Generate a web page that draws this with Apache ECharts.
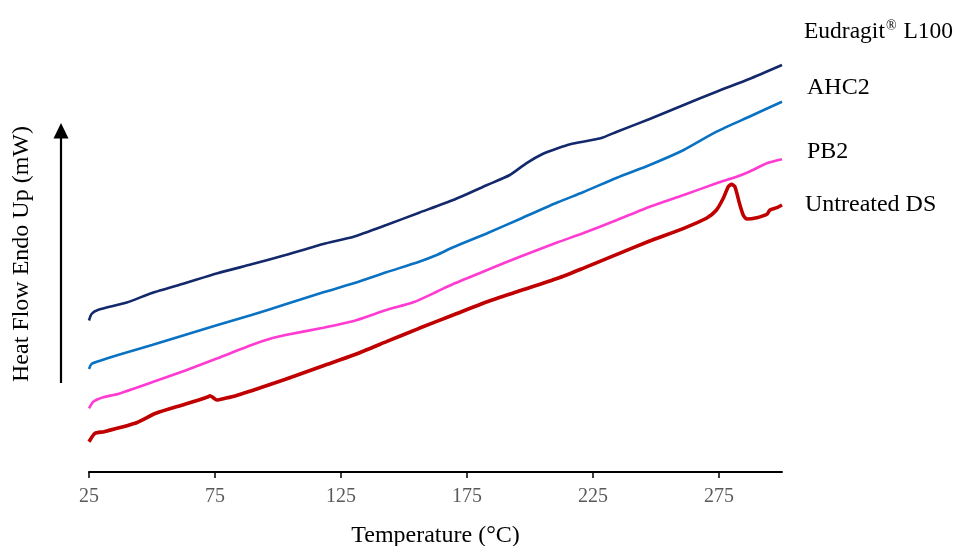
<!DOCTYPE html>
<html>
<head>
<meta charset="utf-8">
<script src="https://cdn.jsdelivr.net/npm/echarts@6/dist/echarts.min.js"></script>
<style>
html,body{margin:0;padding:0;background:#fff;}
#chart{width:957px;height:546px;}
</style>
</head>
<body>
<div id="chart"></div>
<script>
// Temperature (°C) and heat flow (arbitrary mW offset units)
const eudragitT  = [25, 26, 28.5, 40, 50, 63, 76, 89.5, 103, 118, 130, 143, 156, 169.5, 183, 192, 198.5, 205, 211, 216, 228, 234.5, 247.5, 261, 274, 287, 300];
const eudragitHF = [15.15, 15.8, 16.2, 16.95, 17.9, 18.87, 19.87, 20.77, 21.7, 22.8, 23.53, 24.7, 25.93, 27.2, 28.7, 29.7, 30.87, 31.8, 32.37, 32.77, 33.37, 34.03, 35.3, 36.7, 38.03, 39.3, 40.7];

const ahc2T  = [25, 26, 29.4, 36.5, 50, 63, 76, 89.5, 103, 118, 130, 143, 156, 163, 169.5, 183, 196, 211, 221, 234.5, 247.5, 261, 274, 287, 300];
const ahc2HF = [10.3, 10.8, 11.13, 11.7, 12.7, 13.7, 14.7, 15.7, 16.77, 17.97, 18.87, 19.97, 21.03, 21.7, 22.47, 23.87, 25.3, 26.97, 27.97, 29.43, 30.7, 32.2, 34.03, 35.53, 37.03];

const pb2T  = [25, 26.7, 30.7, 36.5, 50, 63, 76, 89.5, 97.5, 103, 118, 130, 143, 153.7, 163, 169.5, 183, 196, 211, 221, 234.5, 247.5, 261, 274, 282, 287, 294, 300];
const pb2HF = [6.37, 7.03, 7.47, 7.8, 8.97, 10.13, 11.37, 12.7, 13.37, 13.7, 14.43, 15.1, 16.2, 16.97, 18.03, 18.8, 20.2, 21.53, 22.97, 23.87, 25.2, 26.53, 27.7, 28.87, 29.53, 30.03, 30.87, 31.27];

const dsT  = [25, 27.4, 31, 43.3, 51.5, 63, 72.3, 73, 74.2, 75.7, 79, 83, 89.5, 103, 118, 130, 143, 156, 169.5, 183, 196, 211, 221, 234.5, 247.5, 261, 270, 274, 276.7, 278.7, 280, 281.3, 283.3, 284.6, 286, 290, 294, 295.2, 298, 300];
const dsHF = [3.03, 3.87, 4.03, 4.87, 5.87, 6.77, 7.53, 7.63, 7.45, 7.2, 7.37, 7.6, 8.13, 9.27, 10.63, 11.7, 13.03, 14.37, 15.7, 17.03, 18.12, 19.37, 20.37, 21.77, 23.1, 24.37, 25.37, 26.2, 27.37, 28.53, 28.77, 28.53, 26.7, 25.7, 25.3, 25.43, 25.77, 26.2, 26.43, 26.7];

const xTicks = [25, 75, 125, 175, 225, 275];
const seriesNames = ['Eudragit® L100', 'AHC2', 'PB2', 'Untreated DS'];

const pairs = (xs, ys) => xs.map((x, i) => [x, ys[i]]);
const FONT = '"Liberation Serif", "Times New Roman", serif';

const chart = echarts.init(document.getElementById('chart'));
chart.setOption({
  animation: false,
  backgroundColor: '#ffffff',
  grid: {left: 89, right: 175, top: 22, bottom: 74, containLabel: false, outerBoundsMode: 'none'},
  xAxis: {
    type: 'value', min: 25, max: 300,
    name: 'Temperature (°C)', nameLocation: 'middle', nameGap: 52,
    nameTextStyle: {fontFamily: FONT, fontSize: 24, color: '#000'},
    axisLine: {show: true, onZero: false, lineStyle: {color: '#000', width: 2}},
    axisTick: {show: true, inside: false, length: 6, customValues: xTicks, lineStyle: {color: '#000', width: 1.5}},
    axisLabel: {customValues: xTicks, margin: 15, fontFamily: FONT, fontSize: 20, color: '#595959'},
    splitLine: {show: false}
  },
  yAxis: {
    type: 'value', min: 0, max: 45, show: false,
    splitLine: {show: false}
  },
  series: [
    {name: seriesNames[0], type: 'line', data: pairs(eudragitT, eudragitHF), showSymbol: false, smooth: 0.2,
     lineStyle: {color: '#13296B', width: 2.6}},
    {name: seriesNames[1], type: 'line', data: pairs(ahc2T, ahc2HF), showSymbol: false, smooth: 0.2,
     lineStyle: {color: '#0A72C2', width: 2.6}},
    {name: seriesNames[2], type: 'line', data: pairs(pb2T, pb2HF), showSymbol: false, smooth: 0.2,
     lineStyle: {color: '#FF3BD2', width: 2.6}},
    {name: seriesNames[3], type: 'line', data: pairs(dsT, dsHF), showSymbol: false, smooth: 0.2,
     lineStyle: {color: '#C00000', width: 3.6}}
  ],
  graphic: [
    {type: 'line', shape: {x1: 61, y1: 383, x2: 61, y2: 134}, style: {stroke: '#000', lineWidth: 2.2}},
    {type: 'polygon', shape: {points: [[61, 123], [53.5, 138.5], [68.5, 138.5]]}, style: {fill: '#000'}},
    {type: 'text', x: 22, y: 254, rotation: Math.PI / 2,
     style: {text: 'Heat Flow Endo Up (mW)', font: '24px ' + FONT, fill: '#000', align: 'center', verticalAlign: 'middle'}},
    {type: 'text', x: 804, y: 32,
     style: {text: '{n|Eudragit}{s|®}{n| L100}', fill: '#000', verticalAlign: 'middle',
       rich: {n: {fontFamily: FONT, fontSize: 23.5, fill: '#000'}, s: {fontFamily: FONT, fontSize: 14, fill: '#000', verticalAlign: 'top', padding: [0, 1, 12, 1]}}}},
    {type: 'text', x: 807, y: 88,
     style: {text: 'AHC2', font: '24px ' + FONT, fill: '#000', verticalAlign: 'middle'}},
    {type: 'text', x: 807, y: 152,
     style: {text: 'PB2', font: '24px ' + FONT, fill: '#000', verticalAlign: 'middle'}},
    {type: 'text', x: 805, y: 205,
     style: {text: 'Untreated DS', font: '24px ' + FONT, fill: '#000', verticalAlign: 'middle'}}
  ]
});
</script>
</body>
</html>
